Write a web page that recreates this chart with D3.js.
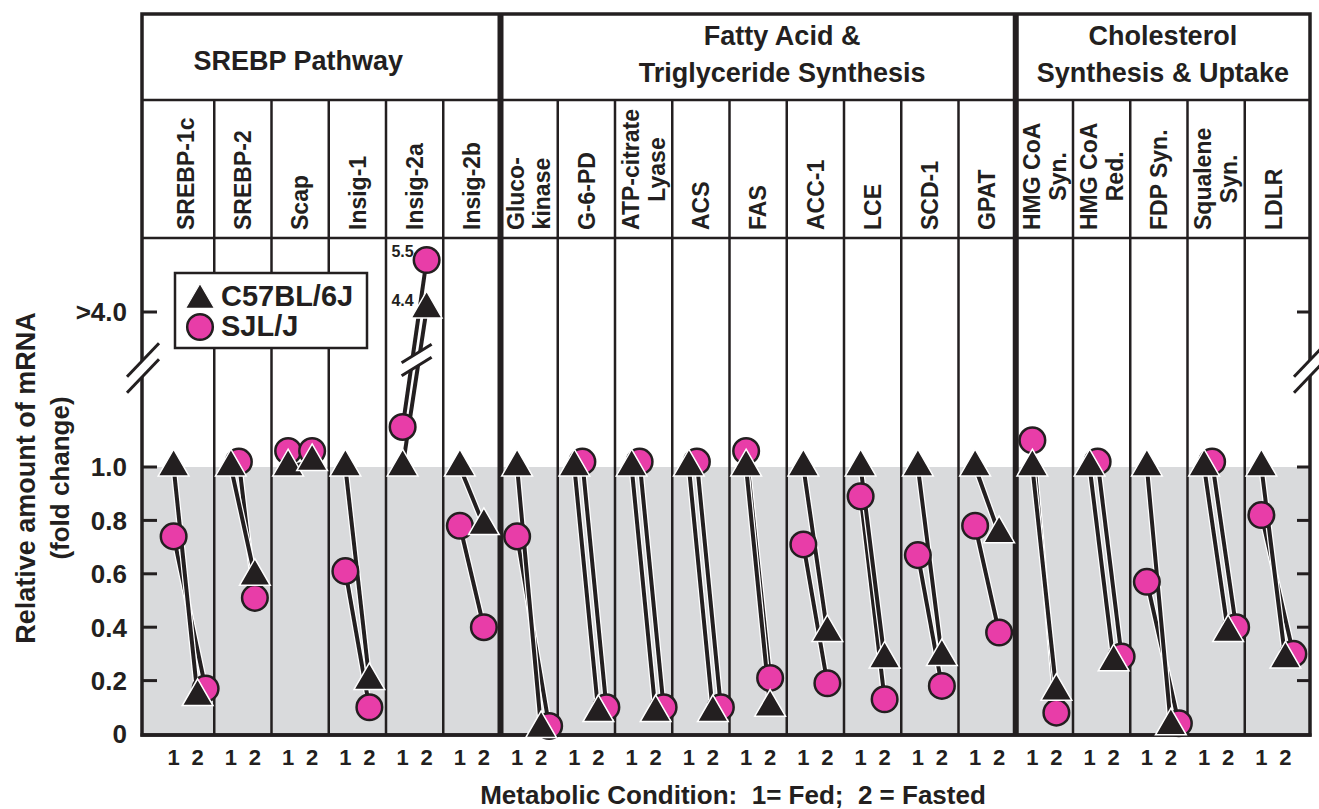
<!DOCTYPE html>
<html>
<head>
<meta charset="utf-8">
<script src="https://cdn.jsdelivr.net/npm/d3@7"></script>
<style>
  body { margin: 0; background: #fff; }
  svg text { font-family: "Liberation Sans", Arial, Helvetica, sans-serif; font-weight: bold; fill: #231f20; }
</style>
</head>
<body>
<svg id="chart"></svg>
<script>
//DATA//
var genes = ["SREBP-1c", "SREBP-2", "Scap", "Insig-1", "Insig-2a", "Insig-2b",
  "Glucokinase", "G-6-PD", "ATP-citrate Lyase", "ACS", "FAS", "ACC-1", "LCE", "SCD-1", "GPAT",
  "HMG CoA Syn.", "HMG CoA Red.", "FDP Syn.", "Squalene Syn.", "LDLR"];
var geneLabels = [["SREBP-1c"], ["SREBP-2"], ["Scap"], ["Insig-1"], ["Insig-2a"], ["Insig-2b"],
  ["Gluco-", "kinase"], ["G-6-PD"], ["ATP-citrate", "Lyase"], ["ACS"], ["FAS"], ["ACC-1"], ["LCE"], ["SCD-1"], ["GPAT"],
  ["HMG CoA", "Syn."], ["HMG CoA", "Red."], ["FDP Syn."], ["Squalene", "Syn."], ["LDLR"]];
var groupNames = [["SREBP Pathway"], ["Fatty Acid &", "Triglyceride Synthesis"], ["Cholesterol", "Synthesis & Uptake"]];
var groupSizes = [6, 9, 5];

// C57BL/6J (triangles) and SJL/J (circles), 1 = fed, 2 = fasted
var c57Fed    = [1.0, 1.0, 1.0, 1.0, 1.0, 1.0, 1.0, 1.0, 1.0, 1.0, 1.0, 1.0, 1.0, 1.0, 1.0, 1.0, 1.0, 1.0, 1.0, 1.0];
var c57Fasted = [0.14, 0.59, 1.02, 0.20, 4.4, 0.78, 0.02, 0.08, 0.08, 0.08, 0.10, 0.38, 0.28, 0.29, 0.75, 0.16, 0.27, 0.03, 0.38, 0.28];
var sjlFed    = [0.74, 1.02, 1.06, 0.61, 1.15, 0.78, 0.74, 1.02, 1.02, 1.02, 1.06, 0.71, 0.89, 0.67, 0.78, 1.10, 1.02, 0.57, 1.02, 0.82];
var sjlFasted = [0.17, 0.51, 1.06, 0.10, 5.5, 0.40, 0.03, 0.10, 0.10, 0.10, 0.21, 0.19, 0.13, 0.18, 0.38, 0.08, 0.29, 0.04, 0.40, 0.30];

var yTicks = [0, 0.2, 0.4, 0.6, 0.8, 1.0];
var yTickLabels = ["0", "0.2", "0.4", "0.6", "0.8", "1.0"];
var upperTick = 4.0;
var upperTickLabel = ">4.0";
var conditions = [1, 2];
var legendNames = ["C57BL/6J", "SJL/J"];

//LAYOUT//
var screen = { width: 1319, height: 809 };
var frame = { left: 142, right: 1310, top: 14, bottom: 735 };
var rowTitle = 100, rowGene = 238, breakY = 369;
var groupTitleDx = [-23, 24, 0];
var pink = "#e83da8", ink = "#231f20", shade = "#d9dadc";

var svg = d3.select("#chart").attr("width", screen.width).attr("height", screen.height);

//scales//
var x = d3.scaleBand().domain(genes).range([157, 1302]);
var cond = d3.scalePoint().domain(conditions).range([-12, 12]);
var yLow = d3.scaleLinear().domain([0, 1]).range([734, 467]);
var yHigh = d3.scaleLinear().domain([4.0, 4.4, 5.5]).range([312, 309, 260]);
var yv = function (v) { return v >= upperTick ? yHigh(v) : yLow(v); };
var cx = function (g) { return x(g) + x.bandwidth() / 2; };

//background//
svg.append("rect")
  .attr("x", frame.left).attr("y", yLow(1))
  .attr("width", frame.right - frame.left).attr("height", frame.bottom - yLow(1))
  .attr("fill", shade);

//grid of columns//
var groupStarts = [];
groupSizes.reduce(function (acc, n) { groupStarts.push(acc); return acc + n; }, 0);
var grid = svg.append("g").attr("stroke", ink).attr("fill", "none");
genes.forEach(function (g, i) {
  if (i === 0) return;
  var thick = groupStarts.indexOf(i) >= 0;
  grid.append("line")
    .attr("x1", x(g)).attr("x2", x(g))
    .attr("y1", thick ? frame.top : rowTitle).attr("y2", frame.bottom)
    .attr("stroke-width", thick ? 6 : 2.5);
});
[rowTitle, rowGene].forEach(function (yy) {
  grid.append("line").attr("x1", frame.left).attr("x2", frame.right)
    .attr("y1", yy).attr("y2", yy).attr("stroke-width", 2.5);
});
grid.append("path")
  .attr("d", "M" + frame.left + "," + frame.bottom + "V" + frame.top + "H" + frame.right + "V" + frame.bottom + "Z")
  .attr("stroke-width", 3.5);

//group titles//
groupNames.forEach(function (lines, gi) {
  var first = genes[groupStarts[gi]], last = genes[groupStarts[gi] + groupSizes[gi] - 1];
  var left = gi === 0 ? frame.left : x(first);
  var right = gi === groupNames.length - 1 ? frame.right : x(last) + x.bandwidth();
  var mid = (left + right) / 2 + groupTitleDx[gi];
  var t = svg.append("text").attr("text-anchor", "middle").style("font-size", "27px");
  var y0 = lines.length === 1 ? 60 : 35;
  lines.forEach(function (s, li) {
    t.append("tspan").attr("x", mid).attr("y", y0 + li * 37).attr("dy", "0.36em").text(s);
  });
});

//gene labels//
genes.forEach(function (g, i) {
  var lines = geneLabels[i];
  var gx = cx(g);
  var holder = svg.append("g").attr("transform", "translate(" + gx + ",230) rotate(-90)");
  if (lines.length === 1) {
    holder.append("text").attr("x", 0).attr("y", 0).attr("dy", "0.36em")
      .style("font-size", "23px").text(lines[0]);
  } else {
    var t1 = holder.append("text").attr("x", 0).attr("y", -13).attr("dy", "0.36em")
      .style("font-size", "23px").text(lines[0]);
    var len = t1.node().getComputedTextLength();
    holder.append("text").attr("x", len / 2).attr("y", 13).attr("dy", "0.36em")
      .attr("text-anchor", "middle").style("font-size", "23px").text(lines[1]);
  }
});

//axes//
var axes = svg.append("g").attr("stroke", ink).attr("stroke-width", 3);
var tickVals = yTicks.filter(function (v) { return v > 0; }).concat([upperTick]);
tickVals.forEach(function (v) {
  axes.append("line").attr("x1", frame.left).attr("x2", frame.left + 15).attr("y1", yv(v)).attr("y2", yv(v));
  axes.append("line").attr("x1", frame.right - 13).attr("x2", frame.right).attr("y1", yv(v)).attr("y2", yv(v));
});
axes.append("line").attr("x1", frame.left - 1.5).attr("x2", frame.right + 1.5)
  .attr("y1", frame.bottom).attr("y2", frame.bottom).attr("stroke-width", 3.5);

var yLab = svg.append("g").attr("text-anchor", "end").style("font-size", "26px");
yTicks.forEach(function (v, i) {
  yLab.append("text").attr("x", 127).attr("y", yLow(v)).attr("dy", "0.36em").text(yTickLabels[i]);
});
yLab.append("text").attr("x", 127).attr("y", yHigh(upperTick)).attr("dy", "0.36em").text(upperTickLabel);

//axis breaks//
var drawBreak = function (bx, by, half, slope, gap) {
  var b = svg.append("g");
  var p1 = [bx - half, by - gap / 2 + half * slope], p2 = [bx + half, by - gap / 2 - half * slope];
  var q1 = [bx - half, by + gap / 2 + half * slope], q2 = [bx + half, by + gap / 2 - half * slope];
  b.append("path").attr("d", "M" + p1 + "L" + p2 + "L" + q2 + "L" + q1 + "Z").attr("fill", "#fff");
  [[p1, p2], [q1, q2]].forEach(function (s) {
    b.append("line").attr("x1", s[0][0]).attr("y1", s[0][1]).attr("x2", s[1][0]).attr("y2", s[1][1])
      .attr("stroke", ink).attr("stroke-width", 3);
  });
};
drawBreak(frame.left + 1, breakY - 1, 16, 1.05, 16);
drawBreak(frame.right, breakY - 1, 16, 1.05, 16);

//condition labels//
var cLab = svg.append("g").attr("text-anchor", "middle").style("font-size", "22px");
genes.forEach(function (g) {
  conditions.forEach(function (c) {
    cLab.append("text").attr("x", cx(g) + cond(c)).attr("y", 757).attr("dy", "0.36em").text(c);
  });
});

//axis titles//
svg.append("text").attr("x", 733).attr("y", 795).attr("dy", "0.36em").attr("text-anchor", "middle")
  .style("font-size", "26px").style("white-space", "pre")
  .text("Metabolic Condition:  1= Fed;  2 = Fasted");
var yt = svg.append("g").attr("transform", "translate(0,478) rotate(-90)");
yt.append("text").attr("x", 0).attr("y", 25).attr("dy", "0.36em").attr("text-anchor", "middle")
  .style("font-size", "27px").text("Relative amount of mRNA");
yt.append("text").attr("x", 0).attr("y", 60).attr("dy", "0.36em").attr("text-anchor", "middle")
  .style("font-size", "26px").text("(fold change)");

//legend//
var legend = svg.append("g");
legend.append("rect").attr("x", 175).attr("y", 273).attr("width", 192).attr("height", 75)
  .attr("fill", "#fff").attr("stroke", ink).attr("stroke-width", 2.5);
var triSym = d3.symbol().type(d3.symbolTriangle);
legend.append("path").attr("d", triSym.size(360)()).attr("transform", "translate(200,300)")
  .attr("fill", ink).attr("stroke", "#fff").attr("stroke-width", 1.2);
legend.append("circle").attr("cx", 200).attr("cy", 327).attr("r", 12.8)
  .attr("fill", pink).attr("stroke", ink).attr("stroke-width", 2.5);
legend.append("text").attr("x", 221).attr("y", 296).attr("dy", "0.36em").style("font-size", "29px").text(legendNames[0]);
legend.append("text").attr("x", 221).attr("y", 326).attr("dy", "0.36em").style("font-size", "29px").text(legendNames[1]);

//points//
var c57Data = genes.map(function (g, i) {
  return [{ g: g, c: 1, v: c57Fed[i], dx: 0 }, { g: g, c: 2, v: c57Fasted[i], dx: 0 }];
});
var sjlData = genes.map(function (g, i) {
  var near = function (a, b) { return Math.abs(a - b) < 0.035; };
  return [
    { g: g, c: 1, v: sjlFed[i], dx: near(sjlFed[i], c57Fed[i]) ? 8 : 0 },
    { g: g, c: 2, v: sjlFasted[i], dx: near(sjlFasted[i], c57Fasted[i]) ? 8 : 0 }
  ];
});
var px = function (d) { return cx(d.g) + cond(d.c) + d.dx; };
var py = function (d) { return yv(d.v); };
var line = d3.line().x(px).y(py);

var marks = svg.append("g");
[sjlData, c57Data].forEach(function (series) {
  marks.selectAll(null).data(series).enter().append("path")
    .attr("d", line).attr("fill", "none").attr("stroke", "#fff").attr("stroke-width", 6.5);
  marks.selectAll(null).data(series).enter().append("path")
    .attr("d", line).attr("fill", "none").attr("stroke", ink).attr("stroke-width", 4);
});

// break marks on lines that jump past the axis break
genes.forEach(function (g, i) {
  if (Math.max(c57Fasted[i], sjlFasted[i]) >= upperTick) {
    drawBreak(cx(g) + 2, breakY - 9, 15, 0.62, 13);
  }
});

var flat = function (s) { return s.reduce(function (a, b) { return a.concat(b); }, []); };
marks.selectAll(null).data(flat(sjlData)).enter().append("circle")
  .attr("cx", px).attr("cy", py).attr("r", 12.8)
  .attr("fill", pink).attr("stroke", ink).attr("stroke-width", 2.5);
marks.selectAll(null).data(flat(c57Data)).enter().append("path")
  .attr("d", triSym.size(410)())
  .attr("transform", function (d) { return "translate(" + px(d) + "," + py(d) + ")"; })
  .attr("fill", ink).attr("stroke", "#fff").attr("stroke-width", 1.5);

// value labels beyond the break
var high = flat(c57Data).concat(flat(sjlData)).filter(function (d) { return d.v >= upperTick; });
svg.selectAll(null).data(high).enter().append("text")
  .attr("x", function (d) { return px(d) - 13; })
  .attr("y", function (d) { return py(d) - 9; })
  .attr("dy", "0.36em").attr("text-anchor", "end").style("font-size", "16px")
  .text(function (d) { return d.v.toFixed(1); });
</script>
</body>
</html>
